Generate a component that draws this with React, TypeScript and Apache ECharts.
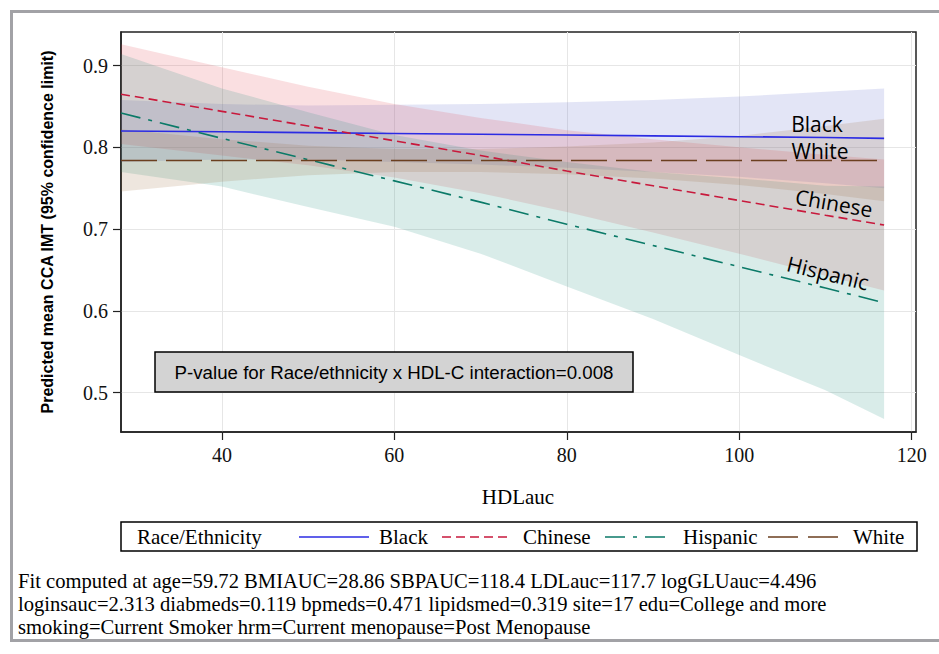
import React, { useEffect, useRef } from "react";
import * as echarts from "echarts";

// HDLauc sample points (x)
const hdl = [28.3, 40, 50, 60, 70, 80, 90, 100, 110, 116.8];

// Predicted mean CCA IMT and 95% CI by group
const blackMean = [0.82, 0.819, 0.818, 0.817, 0.816, 0.815, 0.814, 0.813, 0.812, 0.811];
const blackUpper = [0.858, 0.853, 0.851, 0.852, 0.853, 0.855, 0.858, 0.862, 0.868, 0.872];
const blackLower = [0.782, 0.785, 0.785, 0.782, 0.779, 0.775, 0.77, 0.764, 0.756, 0.75];

const chineseMean = [0.865, 0.844, 0.826, 0.808, 0.79, 0.771, 0.753, 0.735, 0.717, 0.705];
const chineseUpper = [0.926, 0.898, 0.874, 0.853, 0.836, 0.821, 0.81, 0.8, 0.791, 0.785];
const chineseLower = [0.804, 0.79, 0.778, 0.763, 0.744, 0.721, 0.696, 0.67, 0.643, 0.625];

const hispanicMean = [0.842, 0.811, 0.785, 0.759, 0.733, 0.706, 0.68, 0.654, 0.628, 0.61];
const hispanicUpper = [0.914, 0.872, 0.843, 0.815, 0.796, 0.782, 0.77, 0.762, 0.753, 0.752];
const hispanicLower = [0.77, 0.752, 0.727, 0.703, 0.67, 0.63, 0.59, 0.546, 0.503, 0.468];

const whiteMean = [0.784, 0.784, 0.784, 0.784, 0.784, 0.784, 0.784, 0.784, 0.784, 0.784];
const whiteUpper = [0.822, 0.81, 0.802, 0.798, 0.798, 0.801, 0.806, 0.814, 0.826, 0.835];
const whiteLower = [0.746, 0.758, 0.766, 0.77, 0.77, 0.767, 0.762, 0.754, 0.743, 0.734];

const xTicks = [40, 60, 80, 100, 120];
const yTicks = [0.5, 0.6, 0.7, 0.8, 0.9];

const footnote = [
  "Fit computed at age=59.72 BMIAUC=28.86 SBPAUC=118.4 LDLauc=117.7 logGLUauc=4.496",
  "loginsauc=2.313 diabmeds=0.119 bpmeds=0.471 lipidsmed=0.319 site=17 edu=College and more",
  "smoking=Current Smoker hrm=Current menopause=Post Menopause",
];
const pText = "P-value for Race/ethnicity x HDL-C interaction=0.008";

const COLORS: Record<string, string> = {
  Black: "#2B2BE3",
  Chinese: "#C8193C",
  Hispanic: "#0B7A68",
  White: "#6B3F1F",
};
const BAND: Record<string, string> = {
  Black: "#5A62C8",
  Chinese: "#E0404F",
  Hispanic: "#1E8C7A",
  White: "#9C6A3C",
};
const DASH: Record<string, any> = {
  Black: "solid",
  Chinese: [9, 5],
  Hispanic: [20, 8, 4, 8],
  White: [36, 9],
};

const SERIF = '"Liberation Serif", "Times New Roman", serif';
const SANS = '"Liberation Sans", Arial, sans-serif';

function band(name: string, lower: number[], upper: number[]) {
  return {
    type: "custom",
    name: name + " 95% CL",
    silent: true,
    clip: true,
    z: 1,
    data: hdl.map((x, i) => [x, lower[i], upper[i]]),
    encode: { x: 0, y: [1, 2] },
    renderItem: (params: any, api: any) => {
      if (params.dataIndex !== 0) return null;
      const pts: number[][] = [];
      for (let i = 0; i < hdl.length; i++) pts.push(api.coord([hdl[i], upper[i]]));
      for (let i = hdl.length - 1; i >= 0; i--) pts.push(api.coord([hdl[i], lower[i]]));
      return {
        type: "polygon",
        shape: { points: pts },
        style: { fill: BAND[name], opacity: 0.17, stroke: "none" },
      };
    },
  };
}

function line(name: string, mean: number[]) {
  return {
    type: "line",
    name,
    z: 3,
    showSymbol: false,
    symbol: "none",
    silent: true,
    data: hdl.map((x, i) => [x, mean[i]]),
    lineStyle: { color: COLORS[name], width: 1.6, type: DASH[name] },
  };
}

function txt(text: string, x: number, y: number, font: string, extra: any = {}) {
  return {
    type: "text",
    x,
    y,
    z: 10,
    silent: true,
    ...extra,
    style: {
      text,
      font,
      fill: "#000",
      textAlign: extra.align || "left",
      textVerticalAlign: "middle",
      align: extra.align || "left",
      verticalAlign: "middle",
    },
  };
}

export default function App() {
  const ref = useRef<HTMLDivElement>(null);
  useEffect(() => {
    if (!ref.current) return;
    const chart = echarts.init(ref.current, undefined, { renderer: "svg" });

    const legendY = 537;
    const legendItems = [
      { name: "Black", x1: 299, x2: 369, tx: 379 },
      { name: "Chinese", x1: 442, x2: 511, tx: 523 },
      { name: "Hispanic", x1: 605, x2: 673, tx: 683 },
      { name: "White", x1: 768, x2: 838, tx: 853 },
    ];

    const graphic: any[] = [
      // outer frame
      {
        type: "polyline",
        silent: true,
        shape: { points: [[939, 11.5], [11.5, 11.5], [11.5, 640.5], [939, 640.5]] },
        style: { stroke: "#A2A2A6", lineWidth: 3, fill: "none" },
      },
      // p-value box
      {
        type: "rect",
        z: 9,
        silent: true,
        shape: { x: 155, y: 352, width: 478, height: 40 },
        style: { fill: "#D3D3D3", stroke: "#000", lineWidth: 1.5 },
      },
      txt(pText, 394, 372, `18.7px ${SANS}`, { align: "center" }),
      // curve labels
      txt("Black", 817, 124, '21px "Open Sans", sans-serif', { align: "center" }),
      txt("White", 820, 151, '21px "Open Sans", sans-serif', { align: "center" }),
      txt("Chinese", 834, 203, '21px "Open Sans", sans-serif', { align: "center", rotation: -0.17 }),
      txt("Hispanic", 828, 273, '21px "Open Sans", sans-serif', { align: "center", rotation: -0.24 }),
      // x axis title
      txt("HDLauc", 518, 497, `21px ${SERIF}`, { align: "center" }),
      // legend
      {
        type: "rect",
        silent: true,
        shape: { x: 121, y: 522, width: 796, height: 29 },
        style: { fill: "#fff", stroke: "#000", lineWidth: 1.5 },
      },
      txt("Race/Ethnicity", 137, legendY, `21px ${SERIF}`),
    ];
    legendItems.forEach((it) => {
      const dash = DASH[it.name];
      graphic.push({
        type: "line",
        silent: true,
        z: 10,
        shape: { x1: it.x1, y1: legendY, x2: it.x2, y2: legendY },
        style: {
          stroke: COLORS[it.name],
          lineWidth: 1.6,
          lineDash: it.name === "White" ? [30, 10] : dash === "solid" ? null : dash,
        },
      });
      graphic.push(txt(it.name, it.tx, legendY, `21px ${SERIF}`));
    });
    footnote.forEach((t, i) => {
      graphic.push(txt(t, 18, 581 + i * 23, `20.6px ${SERIF}`));
    });

    chart.setOption({
      animation: false,
      backgroundColor: "#fff",
      grid: {
        left: 121,
        top: 32,
        width: 795,
        height: 400,
        show: true,
        borderColor: "#222",
        borderWidth: 1.5,
        backgroundColor: "transparent",
        containLabel: false,
      },
      xAxis: {
        type: "value",
        min: 28.3,
        max: 120.5,
        splitNumber: 5,
        axisLine: { show: true, onZero: false, lineStyle: { color: "#222", width: 1.5 } },
        axisTick: { show: true, length: 8, lineStyle: { color: "#222", width: 1.2 }, customValues: xTicks },
        axisLabel: {
          customValues: xTicks,
          margin: 13,
          fontSize: 20,
          fontFamily: SERIF,
          color: "#111",
        },
        splitLine: { show: true, lineStyle: { color: "#E6E6E6", width: 1 } },
      },
      yAxis: {
        type: "value",
        min: 0.452,
        max: 0.941,
        splitNumber: 5,
        name: "Predicted mean CCA IMT (95% confidence limit)",
        nameLocation: "middle",
        nameGap: 66,
        nameTextStyle: { fontSize: 16, fontWeight: "bold", fontFamily: SANS, color: "#000" },
        axisLine: { show: true, onZero: false, lineStyle: { color: "#222", width: 1.5 } },
        axisTick: { show: true, length: 8, lineStyle: { color: "#222", width: 1.2 }, customValues: yTicks },
        axisLabel: {
          customValues: yTicks,
          margin: 13,
          fontSize: 20,
          fontFamily: SERIF,
          color: "#111",
          formatter: (v: number) => v.toFixed(1),
        },
        splitLine: { show: true, lineStyle: { color: "#E6E6E6", width: 1 } },
      },
      series: [
        band("Black", blackLower, blackUpper),
        band("Chinese", chineseLower, chineseUpper),
        band("Hispanic", hispanicLower, hispanicUpper),
        band("White", whiteLower, whiteUpper),
        line("Black", blackMean),
        line("Chinese", chineseMean),
        line("Hispanic", hispanicMean),
        line("White", whiteMean),
      ],
      graphic,
    });
    return () => chart.dispose();
  }, []);
  return (
    <div
      ref={ref}
      style={{ position: "fixed", left: 0, top: 0, width: 939, height: 654, background: "#fff" }}
    />
  );
}
